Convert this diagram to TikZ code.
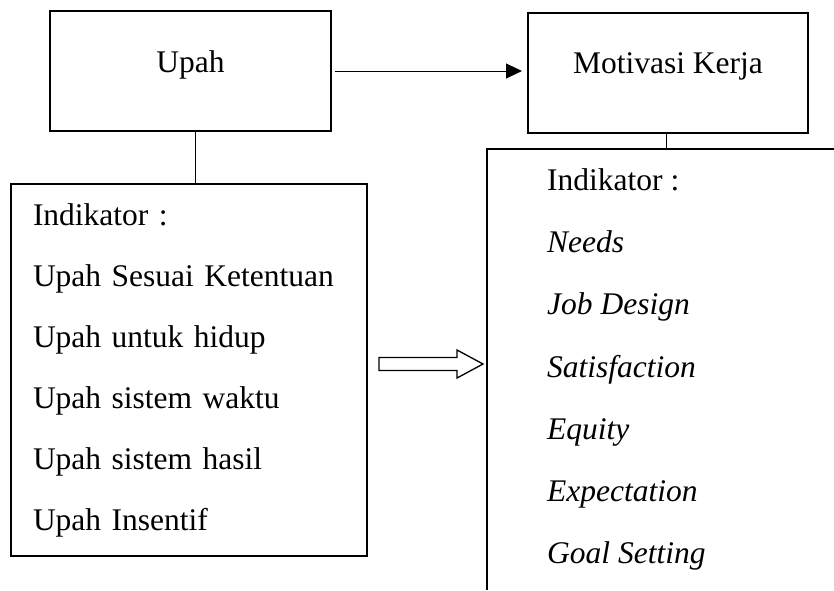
\documentclass[tikz,border=0pt]{standalone}
\usepackage{fontspec}
\setmainfont{Liberation Serif}
\usepackage{tikz}
\usetikzlibrary{arrows.meta}

\begin{document}
\begin{tikzpicture}[x=1pt, y=-1pt, font=\fontsize{31.5}{61}\selectfont]
		% Define the styles for the boxes and lines
		\tikzstyle{varbox}=[rectangle, draw=black, line width=2pt, minimum width=281pt, minimum height=120pt, text height=22pt, text depth=20pt, inner sep=0pt]
		\tikzstyle{indbox}=[rectangle, draw=black, line width=1.3pt, align=left, inner xsep=22pt, inner ysep=0pt, text width=312pt]
		\tikzstyle{link}=[line width=1pt]

		\useasboundingbox (0,0) rectangle (834,590);

		% Define nodes
		\node (upah) [varbox] at (190.5,71) {Upah};
		\node (motivasi) [varbox, minimum width=280pt] at (668,72.5) {Motivasi Kerja};
		\node (upahind) [indbox, minimum height=372pt] at (189,370) {Indikator :\\ Upah Sesuai Ketentuan\\ Upah untuk hidup\\ Upah sistem waktu\\ Upah sistem hasil\\ Upah Insentif};
		\node (motivind) [anchor=north west, inner sep=0pt, align=left, font=\fontsize{31.5}{62.2}\selectfont] at (547,168.5) {Indikator :\\ \textit{Needs}\\ \textit{Job Design}\\ \textit{Satisfaction}\\ \textit{Equity}\\ \textit{Expectation}\\ \textit{Goal Setting}};

		% Open frame round the right indicators
		\coordinate (frametop) at (487,149);
		\draw[line width=1.3pt] (834,149) -- (frametop) -- (487,590);

		% Define edges
		\draw[link, -{Triangle[length=16pt, width=15pt]}] ([xshift=3pt]upah.east) -- ([xshift=-5pt]upah.east -| motivasi.west);
		\draw[link] ([xshift=5pt]upah.south) -- ([xshift=5pt]upah.south |- upahind.north);
		\draw[link] ([xshift=-2pt]motivasi.south) -- ([xshift=-2pt]motivasi.south |- frametop);

		% Hollow arrow between the indicators
		\draw[line width=1.3pt] (379,357.5) -- (457,357.5) -- (457,350) -- (483,364) -- (457,378) -- (457,370.5) -- (379,370.5) -- cycle;
	\end{tikzpicture}
\end{document}
